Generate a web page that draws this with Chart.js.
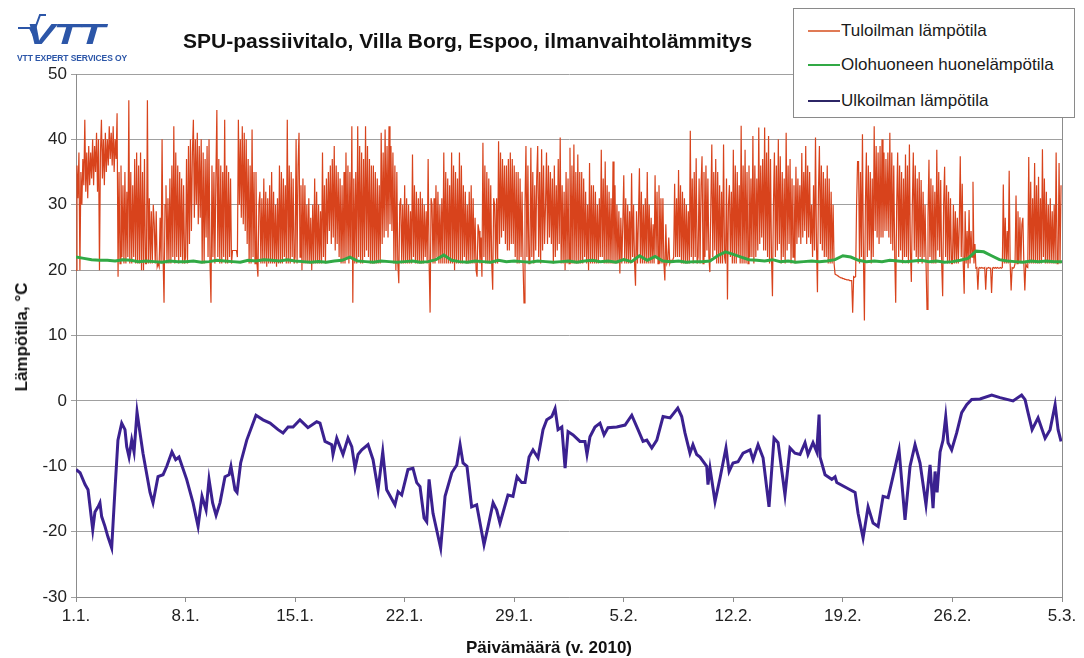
<!DOCTYPE html>
<html>
<head>
<meta charset="utf-8">
<title>SPU-passiivitalo, Villa Borg, Espoo</title>
<script src="https://cdn.jsdelivr.net/npm/chart.js@4/dist/chart.umd.min.js"></script>
<style>
  html, body { margin: 0; padding: 0; background: #fff; }
  #wrap { position: relative; width: 1084px; height: 658px; overflow: hidden;
          font-family: "Liberation Sans", Arial, sans-serif; color: #111; }
  #chart { position: absolute; left: 0; top: 0; }
  .abs { position: absolute; white-space: nowrap; }
  #title { left: 183px; top: 29px; font-size: 21px; font-weight: bold; }
  #ytitle { left: 22px; top: 337px; font-size: 17px; font-weight: bold;
            transform: translate(-50%, -50%) rotate(-90deg); }
  #xtitle { left: 549px; top: 648px; font-size: 17px; font-weight: bold;
            transform: translate(-50%, -50%); }
  #legend { left: 793px; top: 8px; width: 282px; height: 110px; box-sizing: border-box;
            border: 1px solid #8a8a8a; background: #fff; }
  .item { position: absolute; left: 14px; height: 20px; font-size: 17px; line-height: 20px; color: #1a1a1a; }
  .item i { display: inline-block; width: 32px; height: 2px; vertical-align: middle;
            margin-right: 1px; position: relative; top: -1px; }
  #logo { left: 0; top: 0; width: 145px; height: 66px; }
  #logo .vtt { position: absolute; left: 26px; top: 20px; font-size: 29px; line-height: 29px;
               font-weight: bold; font-style: italic; color: #2c56a8; letter-spacing: -1px;
               transform: scaleX(1.5); transform-origin: left top; }
  #logo .sub { position: absolute; left: 17px; top: 53px; font-size: 8.5px; font-weight: bold;
               color: #2c56a8; letter-spacing: -0.1px; }
</style>
</head>
<body>
<div id="wrap">
  <canvas id="chart" width="1084" height="658"></canvas>

  <div id="logo" class="abs">
    <svg width="60" height="40" style="position:absolute;left:0;top:0">
      <polyline points="18,28 30,28 33,34 40,15 46,15" fill="none" stroke="#2c56a8" stroke-width="2"/>
    </svg>
    <div class="vtt">VTT</div>
    <div class="sub">VTT EXPERT SERVICES OY</div>
  </div>

  <div id="title" class="abs">SPU-passiivitalo, Villa Borg, Espoo, ilmanvaihtolämmitys</div>
  <div id="ytitle" class="abs">Lämpötila, °C</div>
  <div id="xtitle" class="abs">Päivämäärä (v. 2010)</div>

  <div id="legend" class="abs">
    <div class="item" style="top:12px"><i style="background:#e07a55"></i>Tuloilman lämpötila</div>
    <div class="item" style="top:46px"><i style="background:#31a945"></i>Olohuoneen huonelämpötila</div>
    <div class="item" style="top:82px"><i style="background:#2c2566"></i>Ulkoilman lämpötila</div>
  </div>
</div>

<script>
// Date labels on the time axis, one per week starting 1.1.2010
const weekLabels = ['1.1.', '8.1.', '15.1.', '22.1.', '29.1.', '5.2.', '12.2.', '19.2.', '26.2.', '5.3.'];

// Supply air temperature (°C), one reading every 1.5 hours, one array per week (one row = one day)
const supplyWeek1 = [
  20, 36, 31, 38, 20, 35, 30, 37, 33, 43, 32, 38, 31, 39, 33, 38,
  34, 40, 33, 39, 35, 41, 32, 40, 20, 38, 43, 34, 40, 33, 41, 35,
  40, 36, 42, 37, 41, 36, 42, 35, 40, 37, 44, 19, 35, 21, 36, 22,
  33, 21, 35, 21, 32, 22, 46, 21, 35, 21, 33, 22, 37, 21, 38, 21,
  36, 21, 38, 20, 35, 20, 37, 21, 21, 46, 21, 31, 21, 29, 21, 30,
  27, 21, 29, 20.5, 21, 20.5, 28, 21, 40, 22, 15, 30, 33, 21, 31, 21,
  34, 21, 36, 22, 42, 21, 38, 22, 36, 21, 35, 22, 34, 21, 33, 21
];
const supplyWeek2 = [
  22, 37, 21, 39, 24, 40, 26, 38, 43, 28, 40, 30, 41, 27, 39, 28,
  40, 21, 38, 21, 37, 25, 39, 22, 40, 21, 15, 36, 22, 35, 21, 34,
  44.5, 22, 37, 21, 36, 21, 35, 22, 43, 21, 36, 21, 35, 22, 34, 21,
  23, 23, 23, 23, 23, 22, 43, 30, 40, 28, 42, 27, 41, 26, 40, 24,
  37, 21, 36, 21, 41.5, 22, 35, 21, 35, 21, 19, 30, 32, 21, 31, 21,
  34, 21, 32, 20.5, 31, 21, 33, 21, 35, 21, 32, 21, 30, 20.5, 31, 21,
  36, 21, 35, 21, 34, 22, 33, 21, 43, 21, 36, 21, 35, 22, 34, 21
];
const supplyWeek3 = [
  22, 40, 21, 36, 41, 22, 33, 20, 34, 21, 33, 21, 30, 21, 31, 21,
  28, 20, 30, 21, 34, 21, 32, 21, 30, 21, 29, 21, 38, 22, 33, 21,
  34, 24, 35, 26, 36, 24, 37, 25, 39, 23, 36, 24, 35, 22, 34, 21,
  33, 21, 35, 21, 38, 22, 36, 21, 35, 22, 42, 15, 34, 21, 35, 21,
  42, 22, 39, 21, 38, 21, 37, 22, 42, 23, 39, 22, 37, 21, 36, 21,
  36, 21, 35, 21, 34, 21, 33, 21, 41, 24, 38, 25, 41.5, 26, 39, 25,
  42, 27, 39, 26, 38, 21, 36, 20, 35, 21, 18, 30, 31, 21, 30, 21
];
const supplyWeek4 = [
  33, 21, 31, 21, 30, 21, 29, 21, 37.7, 22, 33, 21, 32, 21, 31, 21,
  32, 21, 31, 21, 30, 22, 29, 21, 37, 21, 13.5, 31, 30, 21, 31, 21,
  33, 22, 32, 21, 30, 21, 31, 21, 38, 21, 35, 21, 34, 21, 33, 21,
  38, 21, 36, 20, 35, 21, 34, 21, 38, 21, 36, 21, 33, 22, 32, 21,
  30, 21, 32, 21, 33, 21, 31, 21, 28, 20, 19, 27, 26, 21, 25, 19,
  39.5, 22, 36, 21, 35, 21, 34, 21, 33, 21, 17, 31, 30, 21, 31, 21,
  39.7, 24, 38, 25, 37, 26, 36, 24, 36, 23, 37, 23, 38, 24, 37, 24
];
const supplyWeek5 = [
  36, 22, 35, 21, 35, 21, 34, 22, 32, 21, 15, 30, 39, 22, 36, 21,
  21, 38.7, 22, 35, 21, 33, 23, 34, 39, 22, 35, 21, 38.5, 23, 36, 24,
  30, 38, 24, 36, 25, 35, 24, 34, 21, 36, 22, 33, 23, 37, 24, 40.3,
  21, 33, 21, 32, 20, 35, 21, 34, 21, 38.7, 21, 36, 21, 39.2, 21, 35,
  21, 37.7, 21, 35, 21, 35, 21, 34, 22, 32, 21, 30, 20, 36.4, 21, 33,
  21, 33, 21, 32, 21, 30, 21, 31, 22, 38.4, 22, 34, 21, 36.6, 21, 33,
  21, 32, 21, 31, 21, 36.6, 21, 33, 21, 30, 21, 29, 19.5, 28, 21, 27
];
const supplyWeek6 = [
  34.5, 21, 31, 21, 30, 21, 29, 21, 34.8, 22, 30, 21, 17.6, 29, 21, 28,
  35.6, 21, 32, 21, 30, 21, 31, 21, 35, 21, 30, 21, 28, 21, 27, 21,
  34.5, 22, 32, 21, 33, 21, 31, 21, 31, 21, 18.4, 27, 21, 21.5, 25, 21,
  21.5, 21.5, 21.5, 22, 33.2, 22, 31, 22, 35.3, 22, 33, 21, 32, 21, 31, 21,
  30, 21, 29, 21, 41.3, 22, 34, 21, 35, 22, 37.1, 21, 22, 34, 21, 33,
  37.4, 21, 35, 22, 36, 23, 34, 22, 19.7, 30, 39.2, 22, 35, 23, 37, 21,
  35, 21, 33, 21, 32, 21, 39.2, 22, 21, 34, 15.5, 30, 33, 22, 32, 21
];
const supplyWeek7 = [
  38.4, 21, 36, 21, 35, 22, 33, 21, 42.1, 21, 36, 21, 38.4, 21, 35, 21,
  36, 22, 34, 22, 40.5, 21, 36, 22, 34, 23, 41.8, 24, 36, 25, 37, 23,
  41.8, 23, 38, 22, 40.5, 21, 37, 22, 16, 30, 38, 22, 36, 23, 40, 24,
  37.4, 21, 35, 22, 34, 21, 41, 23, 36, 24, 37, 21, 34, 22, 33, 21,
  35.8, 24, 34, 25, 33, 24, 37.9, 25, 35, 26, 39, 24, 36, 25, 35, 24,
  30, 22, 33, 23, 40.3, 24, 16.6, 32, 39, 24, 36, 23, 35, 22, 34, 22,
  36, 21, 34, 21, 32, 21, 30, 21, 19.4, 19.3, 19.2, 19.1, 19, 18.9, 18.8, 18.8
];
const supplyWeek8 = [
  18.7, 18.7, 18.6, 18.6, 18.5, 18.5, 18.5, 18.4, 18.4, 18.4, 13.5, 19, 18.9, 19, 30, 36.6,
  36.6, 21, 35, 22, 40.8, 22, 12.3, 30, 38, 22, 36, 23, 35, 21, 34, 22,
  42, 26, 39, 25, 38, 24, 39, 25, 40, 25, 38, 26, 37, 26, 38, 25,
  41, 24, 38, 23, 36, 22, 15, 30, 38, 22, 36, 23, 35, 21, 34, 22,
  37.7, 22, 36, 21, 39.2, 23, 18.2, 30, 38, 23, 36, 22, 34, 21, 35, 22,
  33.8, 21, 32, 22, 30, 21, 14, 28, 36.9, 22, 34, 21, 33, 21, 32, 21,
  38.4, 23, 35, 22, 33.8, 21, 16, 30, 35.8, 22, 33, 21, 32, 21, 31, 21
];
const supplyWeek9 = [
  21, 30, 21, 29, 21, 28, 21, 27, 37.4, 22, 33.2, 21, 16.4, 29, 21, 26,
  20.3, 29.2, 21, 26, 22, 33.5, 21, 24, 20.3, 20.4, 17, 20.3, 20.4, 20.3, 20.4, 20.3,
  20.3, 20.4, 17, 20.3, 20.3, 20.4, 20.3, 20.3, 16.5, 20.3, 20.4, 20.3, 20.4, 20.3, 20.4, 20.3,
  20.3, 20.4, 20.3, 20.4, 33.1, 21, 28, 21, 26, 21, 35.2, 21, 16.9, 20.4, 20.3, 20.4,
  21, 31.4, 21, 29, 21, 28.1, 21, 27, 28, 21, 16.9, 21, 20.5, 20.4, 37.3, 21,
  33.5, 21, 31, 21, 36.4, 21, 33, 21, 34.3, 21, 31, 21, 38.5, 22, 34, 21,
  32, 21, 30, 21, 31, 21, 29, 21, 30, 21, 38, 21, 21, 36.4, 21, 33
];

// Living room temperature (°C), twice a day
const roomTemp = [
  22.0, 21.8, 21.6, 21.5, 21.5, 21.4, 21.6, 21.5, 21.3, 21.4, 21.3, 21.2, 21.4, 21.3,
  21.3, 21.4, 21.2, 21.3, 21.5, 21.4, 21.3, 21.2, 21.5, 21.4, 21.6, 21.5, 21.4, 21.6,
  21.4, 21.3, 21.2, 21.3, 21.2, 21.4, 21.5, 22.0, 21.4, 21.3, 21.2, 21.4, 21.3, 21.2,
  21.3, 21.4, 21.2, 21.3, 21.6, 22.3, 21.5, 21.3, 21.2, 21.4, 21.3, 21.2, 21.5, 21.3,
  21.4, 21.3, 21.2, 21.4, 21.3, 21.2, 21.3, 21.4, 21.2, 21.4, 21.5, 21.3, 21.4, 21.2,
  21.6, 21.3, 22.2, 21.5, 22.1, 21.4, 21.3, 21.4, 21.2, 21.3, 21.3, 21.4, 22.2, 22.8,
  22.4, 22.0, 21.6, 21.5, 21.4, 21.6, 21.3, 21.4, 21.2, 21.3, 21.4, 21.3, 21.4, 21.6,
  22.2, 22.0, 21.5, 21.3, 21.4, 21.3, 21.5, 21.4, 21.3, 21.4, 21.5, 21.3, 21.4, 21.2,
  21.3, 21.5, 21.8, 22.9, 22.8, 22.2, 21.6, 21.4, 21.3, 21.2, 21.4, 21.3, 21.4, 21.3,
  21.3
];

// Outdoor temperature: [day since 1.1., °C]
const outdoorTemp = [
  [0.00, -10.5], [0.26, -11.0], [0.58, -12.8], [0.77, -13.6], [1.07, -19.7], [1.21, -17.0],
  [1.41, -16.2], [1.53, -15.6], [1.64, -17.7], [1.85, -19.2], [2.04, -20.8], [2.28, -22.5],
  [2.49, -13.6], [2.68, -6.0], [2.92, -3.4], [3.13, -4.4], [3.24, -7.0], [3.39, -8.6],
  [3.56, -6.0], [3.71, -7.8], [3.90, -1.7], [4.09, -4.9], [4.28, -8.0], [4.73, -14.0],
  [4.92, -15.6], [5.24, -11.6], [5.56, -11.3], [5.80, -10.0], [6.13, -7.8], [6.37, -9.0],
  [6.58, -8.6], [7.07, -12.0], [7.48, -15.6], [7.80, -19.2], [8.05, -14.6], [8.31, -16.7],
  [8.50, -12.0], [8.73, -15.6], [8.95, -17.5], [9.20, -15.6], [9.52, -11.6], [9.78, -11.3],
  [9.90, -10.0], [10.16, -13.6], [10.29, -14.0], [10.52, -9.5], [10.91, -6.0], [11.50, -2.2],
  [11.95, -2.9], [12.40, -3.4], [12.91, -4.4], [13.23, -4.9], [13.55, -4.0], [13.87, -4.0],
  [14.19, -3.2], [14.31, -2.9], [14.82, -4.1], [15.38, -3.2], [15.59, -3.4], [15.91, -6.2],
  [16.34, -6.7], [16.42, -8.2], [16.66, -5.7], [17.06, -8.2], [17.38, -5.7], [17.62, -7.0],
  [17.83, -10.3], [18.02, -8.2], [18.26, -7.5], [18.66, -6.7], [18.98, -9.0], [19.30, -13.6],
  [19.60, -7.8], [19.85, -13.6], [20.38, -15.9], [20.58, -13.9], [20.81, -14.4], [21.21, -10.5],
  [21.53, -10.3], [21.77, -12.5], [21.98, -13.1], [22.24, -17.9], [22.41, -18.5], [22.56, -12.0],
  [22.81, -17.2], [23.30, -22.5], [23.58, -14.6], [24.01, -11.0], [24.33, -9.8], [24.54, -6.7],
  [24.73, -9.5], [24.98, -10.0], [25.28, -16.2], [25.60, -15.9], [26.07, -22.0], [26.33, -19.2],
  [26.65, -15.6], [26.88, -16.7], [27.09, -18.7], [27.60, -14.4], [27.92, -14.6], [28.18, -11.6],
  [28.48, -12.5], [28.69, -12.5], [28.95, -8.6], [29.20, -7.5], [29.52, -8.7], [29.84, -4.4],
  [30.08, -2.9], [30.40, -2.4], [30.61, -1.2], [30.80, -4.4], [31.04, -4.0], [31.25, -10.3],
  [31.44, -4.7], [31.76, -5.2], [32.20, -6.2], [32.52, -6.2], [32.65, -8.2], [32.84, -5.5],
  [33.16, -4.0], [33.48, -3.4], [33.74, -5.2], [33.99, -4.1], [34.55, -4.0], [35.08, -3.7],
  [35.51, -2.2], [35.91, -4.4], [36.23, -6.2], [36.47, -6.0], [36.79, -7.2], [37.11, -6.0],
  [37.51, -2.4], [37.96, -2.6], [38.45, -1.1], [38.70, -2.4], [38.91, -4.9], [39.23, -8.0],
  [39.42, -6.7], [39.66, -8.2], [39.87, -8.6], [40.30, -10.0], [40.38, -12.8], [40.51, -10.3],
  [40.83, -15.4], [41.15, -11.8], [41.53, -7.2], [41.73, -10.8], [41.98, -9.5], [42.30, -9.3],
  [42.62, -8.0], [43.07, -7.5], [43.26, -9.0], [43.58, -6.7], [43.90, -8.7], [44.28, -16.2],
  [44.60, -5.7], [44.86, -6.4], [45.30, -14.4], [45.62, -7.2], [45.94, -8.0], [46.26, -8.2],
  [46.58, -6.4], [46.77, -8.2], [47.09, -6.4], [47.33, -7.8], [47.48, -2.1], [47.54, -8.6],
  [47.86, -11.3], [48.29, -12.0], [48.50, -11.6], [48.61, -12.5], [49.46, -13.6], [49.78, -14.0],
  [49.97, -17.2], [50.29, -21.0], [50.61, -16.2], [50.93, -18.7], [51.25, -19.2], [51.57, -14.6],
  [51.89, -14.8], [52.20, -11.6], [52.59, -7.5], [52.97, -18.2], [53.29, -10.0], [53.61, -6.7],
  [53.93, -9.5], [54.31, -15.9], [54.57, -9.8], [54.76, -16.4], [54.89, -10.8], [55.02, -14.0],
  [55.21, -7.8], [55.40, -6.0], [55.57, -2.4], [55.72, -6.4], [55.95, -7.5], [56.27, -4.9],
  [56.59, -1.8], [56.91, -0.6], [57.23, 0.2], [57.76, 0.3], [58.51, 0.9], [59.04, 0.5],
  [59.87, 0.0], [60.42, 0.9], [60.64, 0.2], [60.83, -1.8], [61.09, -4.4], [61.47, -2.6],
  [61.92, -5.7], [62.24, -4.4], [62.56, -0.6], [62.75, -4.4], [62.94, -6.2]
];

const supplyAir = [].concat(supplyWeek1, supplyWeek2, supplyWeek3, supplyWeek4, supplyWeek5,
                            supplyWeek6, supplyWeek7, supplyWeek8, supplyWeek9);

// Right-hand edge of the plot frame
const plotFrame = {
  id: 'plotFrame',
  afterDraw(chart) {
    const { ctx, chartArea: a } = chart;
    ctx.save();
    ctx.strokeStyle = '#8c8c8c';
    ctx.lineWidth = 1;
    ctx.beginPath();
    ctx.moveTo(Math.round(a.right) + 0.5, a.top);
    ctx.lineTo(Math.round(a.right) + 0.5, a.bottom);
    ctx.stroke();
    ctx.restore();
  }
};

const tickFont = { family: '"Liberation Sans", Arial, sans-serif', size: 17 };

new Chart(document.getElementById('chart'), {
  type: 'line',
  data: {
    datasets: [
      {
        label: 'Tuloilman lämpötila',
        data: supplyAir.map((v, i) => ({ x: i / 16, y: v })),
        borderColor: '#d8431c',
        borderWidth: 1.2,
        pointRadius: 0,
        tension: 0,
        order: 2
      },
      {
        label: 'Olohuoneen huonelämpötila',
        data: roomTemp.map((v, i) => ({ x: i / 2, y: v })),
        borderColor: '#31a945',
        borderWidth: 3,
        pointRadius: 0,
        tension: 0,
        order: 1
      },
      {
        label: 'Ulkoilman lämpötila',
        data: outdoorTemp.map(([d, t]) => ({ x: d, y: t })),
        borderColor: '#3b2190',
        borderWidth: 3,
        pointRadius: 0,
        tension: 0,
        order: 0
      }
    ]
  },
  options: {
    responsive: false,
    animation: false,
    layout: { padding: { top: 74, right: 22, left: 0, bottom: 0 } },
    plugins: { legend: { display: false }, tooltip: { enabled: false }, title: { display: false } },
    scales: {
      x: {
        type: 'linear',
        min: 0,
        max: 63,
        ticks: {
          stepSize: 7,
          autoSkip: false,
          maxRotation: 0,
          padding: 4,
          color: '#222',
          font: tickFont,
          callback: (v) => weekLabels[Math.round(v / 7)]
        },
        grid: { drawOnChartArea: false, drawTicks: true, tickLength: 5, color: '#8c8c8c' },
        border: { color: '#8c8c8c' },
        afterFit: (s) => { s.height = 61; }
      },
      y: {
        min: -30,
        max: 50,
        ticks: { stepSize: 10, padding: 4, color: '#222', font: tickFont },
        grid: { color: '#a0a0a0', tickLength: 5 },
        border: { color: '#8c8c8c' },
        afterFit: (s) => { s.width = 76; }
      }
    }
  },
  plugins: [plotFrame]
});
</script>
</body>
</html>
